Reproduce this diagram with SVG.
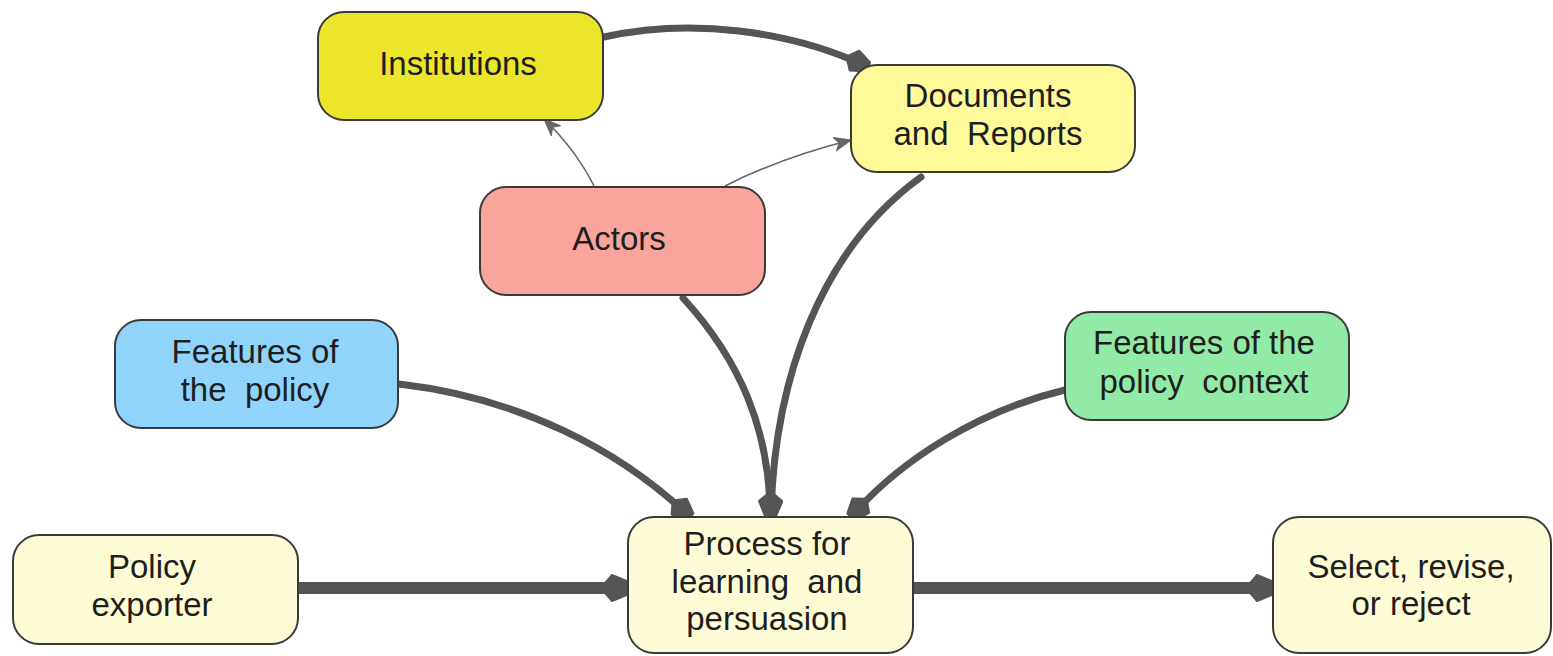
<svg xmlns="http://www.w3.org/2000/svg" width="1553" height="656" viewBox="0 0 1553 656">
<style>
.node rect{stroke:#3a3a3a;stroke-width:2}
.node text{font-family:"Liberation Sans",Arial,sans-serif;font-size:33px;fill:#1e1e1e;text-anchor:middle}
.pre{white-space:pre}
.thick{fill:none;stroke:#555;stroke-width:7;stroke-linecap:round}
.bar{fill:none;stroke:#555;stroke-width:12}
.thin{fill:none;stroke:#666;stroke-width:1.6}
</style>
<defs>
<marker id="hb" markerUnits="userSpaceOnUse" viewBox="0 -14 30 28" refX="29" refY="0" markerWidth="30" markerHeight="28" orient="auto">
<path d="M1,0 L12,-13 L29,-6 L29,6 L12,13 Z" fill="#555" stroke="#555" stroke-width="2" stroke-linejoin="round"/>
</marker>
<marker id="hm" markerUnits="userSpaceOnUse" viewBox="0 -12 26 24" refX="25" refY="0" markerWidth="26" markerHeight="24" orient="auto">
<path d="M1,0 L10,-11 L25,-5 L25,5 L10,11 Z" fill="#555" stroke="#555" stroke-width="2" stroke-linejoin="round"/>
</marker>
<marker id="ht" markerUnits="userSpaceOnUse" viewBox="0 -8 18 16" refX="17" refY="0" markerWidth="18" markerHeight="16" orient="auto">
<path d="M0,-7 L17,0 L0,7 L5,0 Z" fill="#666" stroke="#666" stroke-width="1" stroke-linejoin="round"/>
</marker>
</defs>
<g id="connectors">
<path class="thick" d="M604,37 C690,18 790,30 868,67" marker-end="url(#hm)"/>
<path class="thin" d="M594,186 Q576,150 544,119" marker-end="url(#ht)"/>
<path class="thin" d="M725,186 Q780,158 851,140" marker-end="url(#ht)"/>
<path class="thick" d="M683,298 C740,360 770,430 770,516" marker-end="url(#hm)"/>
<path class="thick" d="M921,177 C820,250 774,380 771,516" marker-end="url(#hm)"/>
<path class="thick" d="M399,384 C520,398 620,450 690,517" marker-end="url(#hm)"/>
<path class="thick" d="M1065,390 C980,410 900,460 851,517" marker-end="url(#hm)"/>
<path class="bar" d="M298,588 L629,588" marker-end="url(#hb)"/>
<path class="bar" d="M913,588 L1274,588" marker-end="url(#hb)"/>
</g>
<g id="institutions" class="node">
<rect x="318" y="12" width="285" height="108" rx="26" fill="#ebe62b"/>
<text x="458" y="75">Institutions</text>
</g>
<g id="documents" class="node">
<rect x="851" y="65" width="284" height="107" rx="26" fill="#fefa9a"/>
<text x="988" y="107">Documents</text>
<text x="988" y="145" class="pre">and  Reports</text>
</g>
<g id="actors" class="node">
<rect x="480" y="187" width="285" height="108" rx="26" fill="#f9a59c"/>
<text x="619" y="250">Actors</text>
</g>
<g id="features-policy" class="node">
<rect x="115" y="320" width="283" height="108" rx="26" fill="#90d4fc"/>
<text x="255" y="363">Features of</text>
<text x="255" y="401" class="pre">the  policy</text>
</g>
<g id="features-context" class="node">
<rect x="1065" y="312" width="284" height="108" rx="26" fill="#91eba6"/>
<text x="1204" y="354">Features of the</text>
<text x="1204" y="393" class="pre">policy  context</text>
</g>
<g id="policy-exporter" class="node">
<rect x="13" y="535" width="285" height="109" rx="26" fill="#fefcd4"/>
<text x="152" y="578">Policy</text>
<text x="152" y="616">exporter</text>
</g>
<g id="process" class="node">
<rect x="628" y="517" width="285" height="136" rx="26" fill="#fefcd4"/>
<text x="767" y="555">Process for</text>
<text x="767" y="593" class="pre">learning  and</text>
<text x="767" y="630">persuasion</text>
</g>
<g id="select" class="node">
<rect x="1273" y="517" width="278" height="136" rx="26" fill="#fefcd4"/>
<text x="1411" y="578">Select, revise,</text>
<text x="1411" y="615">or reject</text>
</g>
</svg>
